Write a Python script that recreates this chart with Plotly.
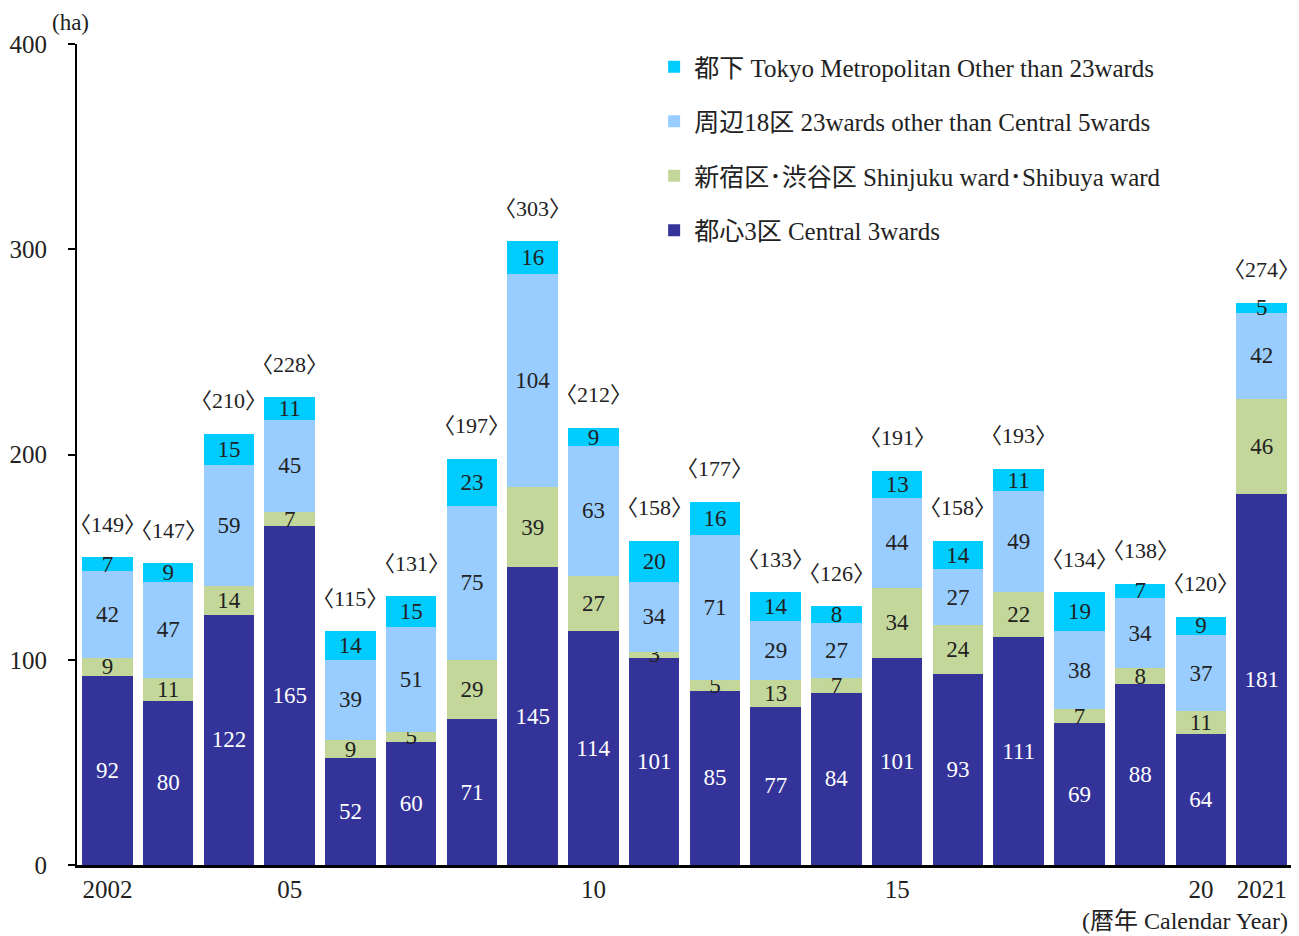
import plotly.graph_objects as go

years = list(range(2002, 2022))
central3 = [92, 80, 122, 165, 52, 60, 71, 145, 114, 101, 85, 77, 84, 101, 93, 111, 69, 88, 64, 181]
shinjuku_shibuya = [9, 11, 14, 7, 9, 5, 29, 39, 27, 3, 5, 13, 7, 34, 24, 22, 7, 8, 11, 46]
other18 = [42, 47, 59, 45, 39, 51, 75, 104, 63, 34, 71, 29, 27, 44, 27, 49, 38, 34, 37, 42]
tokyo_other = [7, 9, 15, 11, 14, 15, 23, 16, 9, 20, 16, 14, 8, 13, 14, 11, 19, 7, 9, 5]
totals = [149, 147, 210, 228, 115, 131, 197, 303, 212, 158, 177, 133, 126, 191, 158, 193, 134, 138, 120, 274]
tick_years = [2002, 2005, 2010, 2015, 2020, 2021]
tick_labels = ["2002", "05", "10", "15", "20", "2021"]

names = [
    "都心3区 Central 3wards",
    "新宿区･渋谷区 Shinjuku ward･Shibuya ward",
    "周辺18区 23wards other than Central 5wards",
    "都下 Tokyo Metropolitan Other than 23wards",
]
series = [central3, shinjuku_shibuya, other18, tokyo_other]
colors = ["#333399", "#C4D79B", "#99CCFF", "#00CCFF"]
text_colors = ["white", "#222222", "#222222", "#222222"]

FONT = "Liberation Serif, Noto Sans CJK JP, serif"

fig = go.Figure()
for i, (nm, vals, col, tc) in enumerate(zip(names, series, colors, text_colors)):
    fig.add_trace(go.Bar(
        x=years, y=vals, name=nm, legendgroup=f"g{i}", legendrank=100 - i,
        marker=dict(color=col, line=dict(width=0)),
        text=[str(v) for v in vals], textposition="inside",
        insidetextanchor="middle", textangle=0,
        textfont=dict(family=FONT, size=23, color=tc),
        constraintext="none",
    ))

for yr, tot, c, s, o, t in zip(years, totals, central3, shinjuku_shibuya, other18, tokyo_other):
    fig.add_annotation(x=yr, y=c + s + o + t, text=f"〈{tot}〉", showarrow=False,
                       yanchor="middle", yshift=33, borderpad=0,
                       font=dict(family=FONT, size=22, color="#222222"))

fig.add_annotation(xref="paper", yref="paper", x=-0.022, y=1.0, yshift=22,
                   text="(ha)", showarrow=False, xanchor="left", yanchor="middle",
                   font=dict(family=FONT, size=23, color="#222222"))
fig.add_annotation(xref="paper", yref="paper", x=0.998, y=0, yshift=-56,
                   text="(暦年 Calendar Year)", showarrow=False, xanchor="right", yanchor="middle",
                   font=dict(family=FONT, size=24, color="#222222"))

# page body has an 8px margin, so the figure is sized to fit the window
fig.update_layout(
    width=1291, height=928,
    margin=dict(l=69, r=7, t=36, b=71, autoexpand=False),
    plot_bgcolor="white", paper_bgcolor="white",
    barmode="stack", bargap=0.17,
    font=dict(family=FONT, size=24, color="#222222"),
    uniformtext=dict(minsize=23, mode="show"),
    showlegend=True,
    legend=dict(x=0.475, y=1.0, xanchor="left", yanchor="top",
                traceorder="grouped", tracegroupgap=19,
                font=dict(family=FONT, size=25, color="#222222"),
                bgcolor="rgba(0,0,0,0)", itemwidth=30),
    xaxis=dict(range=[2001.5, 2021.5], tickvals=tick_years, ticktext=tick_labels,
               showline=True, linecolor="black", linewidth=3, ticks="",
               showgrid=False, zeroline=False,
               tickfont=dict(family=FONT, size=25, color="#222222")),
    yaxis=dict(range=[0, 400], tickvals=[0, 100, 200, 300, 400],
               showline=True, linecolor="black", linewidth=2,
               ticks="outside", ticklen=7, tickwidth=2, tickcolor="black",
               ticklabelstandoff=16,
               showgrid=False, zeroline=False,
               tickfont=dict(family=FONT, size=25, color="#222222")),
)

fig.write_html("out.html")
